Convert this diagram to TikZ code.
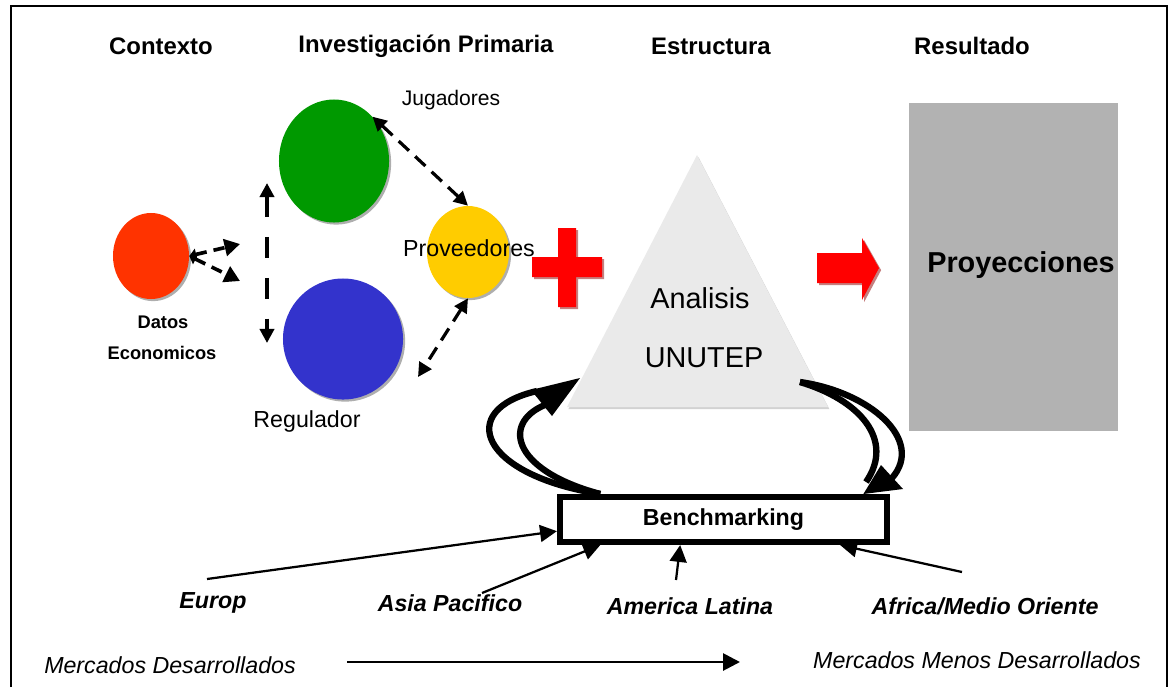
\documentclass[tikz,border=0pt]{standalone}
\usepackage{fontspec}
\setmainfont{Liberation Sans}
\usepackage{xcolor}
\usepackage{tikz}
\usetikzlibrary{calc}
\usetikzlibrary{arrows.meta}
\usetikzlibrary{shapes.geometric}
\usetikzlibrary{shadows}

\definecolor{rojo}{RGB}{255,51,0}
\definecolor{verde}{RGB}{0,153,0}
\definecolor{azul}{RGB}{51,51,204}
\definecolor{amarillo}{RGB}{255,204,0}
\definecolor{grisclaro}{RGB}{234,234,234}
\definecolor{grisbox}{RGB}{178,178,178}

\begin{document}
\begin{tikzpicture}[x=0.025cm,y=-0.025cm,
	circulo/.style={ellipse,inner sep=0pt,drop shadow={shadow xshift=1.5pt,shadow yshift=-1.5pt,fill=black!45,opacity=0.7}},
	titulo/.style={font=\fontsize{17}{20}\selectfont\bfseries},
	etiq/.style={font=\fontsize{16.5}{20}\selectfont},
	region/.style={font=\fontsize{16.5}{20}\selectfont\bfseries\itshape},
	mercado/.style={font=\fontsize{16.5}{20}\selectfont\itshape},
	punteada/.style={line width=2.3pt,dash pattern=on 10pt off 6pt,{Triangle[length=10pt,width=10pt]}-{Triangle[length=10pt,width=10pt]}},
	flechita/.style={line width=1.6pt,-{Triangle[length=12pt,width=12pt]}},
	curva/.style={line width=4.5pt}]
		\useasboundingbox (0,0) rectangle (1169,687);
		\draw[line width=1.4pt] (11,687) -- (11,6) -- (1167,6) -- (1167,687);
		\node[titulo] (contexto) at (161,46) {Contexto};
		\node[titulo] (investig) at (426,46) {Investigación Primaria};
		\node[titulo] (estructura) at (711,46) {Estructura};
		\node[titulo] (resultado) at (972,46) {Resultado};
		\node[circulo,fill=rojo,minimum width=1.9cm,minimum height=2.15cm] (datos) at (151,256) {};
		\node[circulo,fill=verde,minimum width=2.75cm,minimum height=3.075cm] (jugadores) at (334,161) {};
		\node[circulo,fill=azul,minimum width=3cm,minimum height=3.025cm] (regulador) at (343,339) {};
		\node[circulo,fill=amarillo,minimum width=2.05cm,minimum height=2.3cm] (proveedores) at (468,252) {};
		\node[font=\fontsize{13}{15}\selectfont\bfseries] (datoslbl) at (163,322) {Datos};
		\node[font=\fontsize{13}{15}\selectfont\bfseries] (economicoslbl) at (162,353) {Economicos};
		\node[font=\fontsize{15}{18}\selectfont] (jugadoreslbl) at (451,100) {Jugadores};
		\node[etiq] (proveedoreslbl) at (469,248) {Proveedores};
		\node[etiq] (reguladorlbl) at (307,421) {Regulador};
		\coordinate (d1) at (240,244);
		\coordinate (d2) at (240,281);
		\coordinate (v1) at (267,183);
		\coordinate (v2) at (267,343);
		\coordinate (r1) at (418,377);
		\draw[punteada,line width=2.6pt,dash pattern=on 8pt off 5pt,{Triangle[length=5pt,width=8pt]}-{Triangle[length=11pt,width=12pt]}] (datos.east) -- (d1);
		\draw[punteada,line width=2.6pt,dash pattern=on 8pt off 5pt,{Triangle[length=5pt,width=8pt]}-{Triangle[length=11pt,width=12pt]}] (datos.east) -- (d2);
		\draw[punteada,line width=3pt,dash pattern=on 15pt off 14pt] (v1) -- (v2);
		\draw[punteada] (jugadores.49) -- (proveedores.north);
		\draw[punteada] (proveedores.south) -- (r1);
		\fill[red,drop shadow={shadow xshift=1.5pt,shadow yshift=-1.5pt,fill=red!55!black}] (558,228) -- (576,228) -- (576,257) -- (602,257) -- (602,277) -- (576,277) -- (576,307) -- (558,307) -- (558,277) -- (532,277) -- (532,257) -- (558,257) -- cycle;
		\fill[grisclaro,drop shadow={shadow xshift=1pt,shadow yshift=-1.5pt,fill=black!35}] (697,155) -- (828,407) -- (567,407) -- cycle;
		\node[font=\fontsize{20.5}{24}\selectfont] (analisis) at (700,298) {Analisis};
		\node[font=\fontsize{20.5}{24}\selectfont] (unutep) at (704,358) {UNUTEP};
		\fill[red,drop shadow={shadow xshift=1.5pt,shadow yshift=-1.5pt,fill=red!55!black}] (817,253) -- (862,253) -- (862,238) -- (879,268) -- (862,300) -- (862,283) -- (817,283) -- cycle;
		\node[fill=grisbox,minimum width=5.225cm,minimum height=8.2cm] (proy) at (1013.5,267) {};
		\node[font=\fontsize{20.5}{24}\selectfont\bfseries] (proylbl) at (1021,265) {Proyecciones};
		\node[draw,line width=4.3pt,minimum width=8.175cm,minimum height=1.125cm,font=\fontsize{16.5}{20}\selectfont\bfseries] (bench) at (723.5,519.5) {Benchmarking};
		\coordinate (izqini) at ($(bench.north west)!0.13!(bench.north east)$);
		\coordinate (izqpunta) at (580,378);
		\draw[curva] (izqini) .. controls (480,475) and (455,410) .. (537,391);
		\draw[curva] (izqini) .. controls (510,470) and (500,420) .. (550,403);
		\fill (izqpunta) -- (531,390) -- (552,416) -- cycle;
		\coordinate (derini) at (800,382);
		\coordinate (derpunta) at ($(bench.north west)!0.92!(bench.north east)$);
		\draw[curva] (derini) .. controls (870,392) and (925,440) .. (892,478);
		\draw[curva] (derini) .. controls (860,400) and (895,440) .. (866,482);
		\fill (derpunta) -- (881,465) -- (903,489) -- cycle;
		\node[region] (europ) at (213,603) {Europ};
		\node[region] (asia) at (450,603) {Asia Pacifico};
		\node[region] (america) at (690,606) {America Latina};
		\node[region] (africa) at (985,606) {Africa/Medio Oriente};
		\coordinate (eu) at (207,579);
		\coordinate (as) at (482,593);
		\coordinate (am) at (676,580);
		\coordinate (af) at (962,572);
		\draw[flechita] (eu) -- (bench.184);
		\draw[flechita] (as) -- ($(bench.south west)!0.13!(bench.south east)$);
		\draw[flechita] (am) -- ($(bench.south west)!0.37!(bench.south east)$);
		\draw[flechita] (af) -- ($(bench.south west)!0.85!(bench.south east)$);
		\node[mercado] (desarr) at (170,665) {Mercados Desarrollados};
		\node[mercado] (menos) at (977,660) {Mercados Menos Desarrollados};
		\coordinate (m1) at (347,662);
		\coordinate (m2) at (740,662);
		\draw[line width=2pt,-{Triangle[length=12pt,width=12pt]}] (m1) -- (m2);
	\end{tikzpicture}
\end{document}
